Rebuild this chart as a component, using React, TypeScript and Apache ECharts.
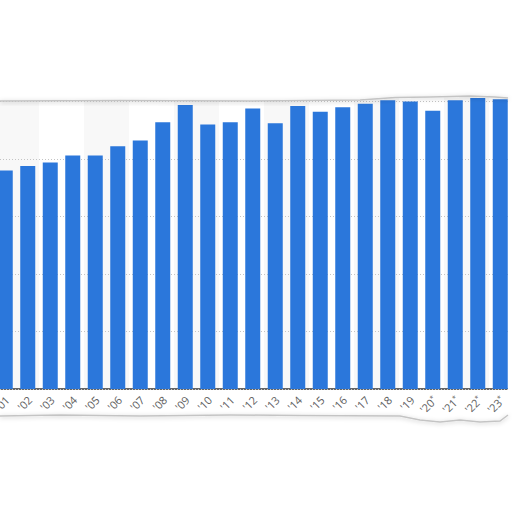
import { useEffect, useRef } from 'react';
import * as echarts from 'echarts';

const years = [
  "'01", "'02", "'03", "'04", "'05", "'06", "'07", "'08", "'09", "'10", "'11", "'12",
  "'13", "'14", "'15", "'16", "'17", "'18", "'19", "'20*", "'21*", "'22*", "'23*",
];

const values = [
  190, 194, 197, 203, 203, 211, 216, 232, 247, 230, 232, 244,
  231, 246, 241, 245, 248, 251, 250, 242, 251, 253, 252,
];

const yMax = 300;
const yStep = 50;

// the chart div sits 6px left of the page edge so the first bar is cut off
const SHIFT = 6;

// torn paper edges (decoration only, page coordinates)
const topEdge = [
  [0, 101], [120, 100.5], [250, 101], [360, 100], [395, 97.5], [430, 97], [470, 96],
  [495, 97], [508, 98],
];
const bottomEdge = [
  [0, 416], [60, 415], [140, 416], [230, 415], [300, 415.5], [400, 416], [420, 420],
  [440, 422], [460, 420], [480, 422], [500, 421], [508, 415],
];

const shiftPts = (pts: number[][]) => pts.map(([x, y]) => [x + SHIFT, y]);

export default function App() {
  const chartRef = useRef<HTMLDivElement | null>(null);

  useEffect(() => {
    document.body.style.margin = '0';
    document.body.style.overflow = 'hidden';
    if (!chartRef.current) {
      return;
    }

    const chart = echarts.init(chartRef.current, null, { renderer: 'svg' });

    const edgeStyle = {
      stroke: '#c4c4c4',
      lineWidth: 1.5,
      fill: null,
      shadowBlur: 4,
      shadowColor: 'rgba(0,0,0,0.25)',
      shadowOffsetY: 1,
    };

    const right = 508 + SHIFT;

    chart.setOption({
      animation: false,
      backgroundColor: '#ffffff',
      grid: {
        left: 0,
        right: 0.5,
        top: 44,
        bottom: 123,
        containLabel: false,
      },
      xAxis: {
        type: 'category',
        data: years,
        z: 0,
        axisTick: { show: false },
        axisLine: { lineStyle: { color: '#333333', width: 1.5 } },
        splitArea: {
          show: true,
          areaStyle: { color: ['#f8f8f8', '#ffffff'] },
        },
        axisLabel: { show: false },
      },
      yAxis: {
        type: 'value',
        min: 0,
        max: yMax,
        interval: yStep,
        z: 1,
        axisLabel: { show: false },
        axisLine: { show: false },
        axisTick: { show: false },
        splitLine: {
          lineStyle: { color: '#c4c4c4', type: [1, 2], width: 1 },
        },
      },
      series: [
        {
          type: 'bar',
          data: values,
          barWidth: 15,
          z: 2,
          itemStyle: { color: '#2b77db' },
          label: {
            show: true,
            position: 'bottom',
            distance: 11,
            rotate: 45,
            align: 'right',
            verticalAlign: 'middle',
            offset: [3, 0],
            fontSize: 11,
            color: '#5e5e5e',
            fontFamily: 'Open Sans',
            formatter: (p: { name: string }) => p.name.replace('*', '{s|*}'),
            rich: {
              s: { fontSize: 7, verticalAlign: 'top', color: '#5e5e5e' },
            },
          },
        },
      ],
      graphic: [
        {
          type: 'polygon',
          z: 100,
          shape: { points: [[0, 0], ...shiftPts(topEdge), [right + 10, 98], [right + 10, 0]] },
          style: { fill: '#ffffff' },
        },
        {
          type: 'rect',
          z: 100,
          shape: { x: right, y: 0, width: 10, height: 512 },
          style: { fill: '#ffffff' },
        },
        {
          type: 'polygon',
          z: 100,
          shape: { points: [[0, 512], ...shiftPts(bottomEdge), [right + 10, 415], [right + 10, 512]] },
          style: { fill: '#ffffff' },
        },
        {
          type: 'polyline',
          z: 101,
          shape: { points: shiftPts(topEdge) },
          style: edgeStyle,
        },
        {
          type: 'polyline',
          z: 101,
          shape: { points: shiftPts(bottomEdge) },
          style: edgeStyle,
        },
        {
          type: 'line',
          z: 101,
          shape: { x1: right, y1: 98, x2: right, y2: 415 },
          style: { ...edgeStyle, lineWidth: 1 },
        },
      ],
    });

    return () => {
      chart.dispose();
    };
  }, []);

  return (
    <div
      ref={chartRef}
      style={{ width: 512 + SHIFT, height: 512, marginLeft: -SHIFT }}
    />
  );
}
